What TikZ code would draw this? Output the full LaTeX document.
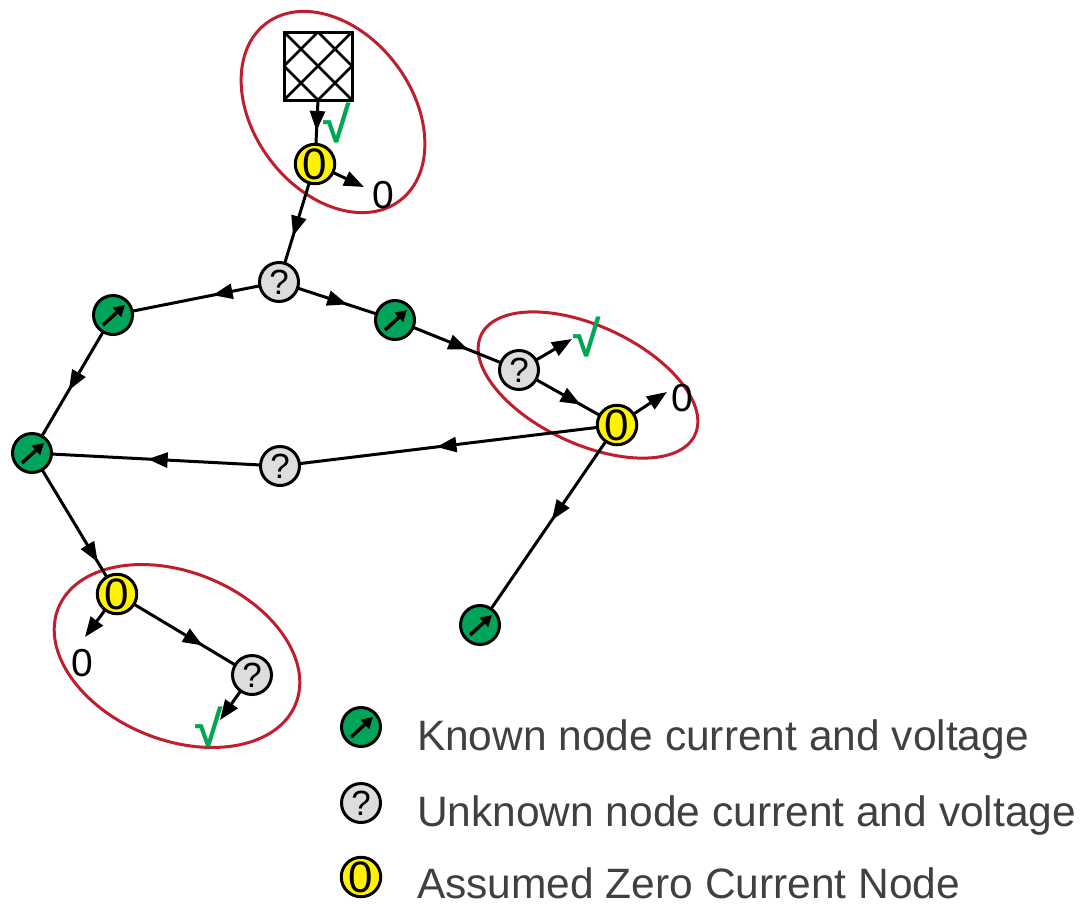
\documentclass[tikz,border=0pt]{standalone}
\usepackage{fontspec}
\setmainfont{Liberation Sans}
\usetikzlibrary{arrows.meta,decorations.markings}
\definecolor{knowngreen}{RGB}{0,163,90}
\definecolor{unkgray}{RGB}{221,221,221}
\definecolor{zeroyellow}{RGB}{255,242,0}
\definecolor{zonered}{RGB}{190,30,45}
\definecolor{checkgreen}{RGB}{0,166,81}
\definecolor{legendtext}{RGB}{64,64,64}
\newcommand\qmark{\raisebox{-4pt}{?}}
\newcommand\zmark{\raisebox{-6pt}{0}}
\begin{document}
\begin{tikzpicture}[x=1pt,y=-1pt,
  every node/.style={inner sep=0pt, outer sep=0pt},
  bus/.style={circle, draw=black, line width=3pt, minimum size=39pt},
  known/.style={bus, fill=knowngreen,
    path picture={\draw[line width=3.5pt, -{Triangle[length=11pt,width=12pt]}]
      ([shift={(-10,10)}]path picture bounding box.center) --
      ([shift={(12,-10)}]path picture bounding box.center);}},
  unknown/.style={bus, fill=unkgray, font=\fontsize{35}{35}\selectfont},
  zero/.style={bus, fill=zeroyellow, font=\fontsize{44}{44}\selectfont},
  source/.style={draw=black, line width=3pt, minimum size=68pt,
    path picture={\draw[line width=2.6pt]
      (path picture bounding box.north west) -- (path picture bounding box.south east)
      (path picture bounding box.north east) -- (path picture bounding box.south west)
      (path picture bounding box.north) -- (path picture bounding box.east)
      -- (path picture bounding box.south) -- (path picture bounding box.west)
      -- cycle;}},
  zerolabel/.style={font=\fontsize{39}{39}\selectfont},
  checklabel/.style={font=\fontsize{50}{50}\selectfont\bfseries, text=checkgreen},
  wire/.style={draw=black, line width=3pt},
  midarrow/.style={postaction={decorate}, decoration={markings,
    mark=at position #1 with {\arrow{Triangle[length=20pt,width=15pt]}}}},
  endarrow/.style={-{Triangle[length=20pt,width=15pt]}},
  zone/.style={draw=zonered, line width=3pt},
  legend/.style={anchor=base west, text=legendtext, font=\fontsize{42.5}{42.5}\selectfont}
]
\useasboundingbox (0,0) rectangle (1081,908);

% zones around the assumed zero current nodes
\draw[zone, rotate around={-53:(333,112)}] (333,112) ellipse [x radius=111, y radius=79];
\draw[zone, rotate around={-25:(588,385)}] (588,385) ellipse [x radius=118, y radius=59];
\draw[zone, rotate around={-22:(177,656)}] (177,656) ellipse [x radius=128, y radius=84];

% source and buses
\node[source] (src) at (318,66) {};
\node[zero] (y1) at (315,164) {\zmark};
\node[unknown] (q1) at (279,282) {\qmark};
\node[known] (ka) at (113,315) {};
\node[known] (kb) at (395,320) {};
\node[unknown] (q2) at (519,370) {\qmark};
\node[zero] (y2) at (617,425) {\zmark};
\node[unknown] (q3) at (280,466) {\qmark};
\node[known] (kc) at (32,453) {};
\node[zero] (y3) at (117,594) {\zmark};
\node[unknown] (q4) at (252,675) {\qmark};
\node[known] (kd) at (480,625) {};

% labels at the free ends
\node[zerolabel] (l1) at (383,195) {0};
\node[zerolabel] (l2) at (682,398) {0};
\node[zerolabel] (l3) at (82,663) {0};
\node[checklabel] (c1) at (337,123) {√};
\node[checklabel] (c2) at (587,337) {√};
\node[checklabel] (c3) at (209,727) {√};

\coordinate (t1) at (364,187);
\coordinate (t2) at (667,392);
\coordinate (t3) at (85,637);
\coordinate (t4) at (572,339);
\coordinate (t5) at (220,720);

% connectors
\draw[wire, midarrow=0.70] (src.south) -- (y1);
\draw[wire, endarrow] (y1) -- (t1);
\draw[wire, midarrow=0.66] (y1) -- (q1);
\draw[wire, midarrow=0.37] (q1) -- (ka);
\draw[wire, midarrow=0.63] (q1) -- (kb);
\draw[wire, midarrow=0.63] (kb) -- (q2);
\draw[wire, endarrow] (q2) -- (t4);
\draw[wire, midarrow=0.70] (q2) -- (y2);
\draw[wire, endarrow] (y2) -- (t2);
\draw[wire, midarrow=0.54] (y2) -- (q3);
\draw[wire, midarrow=0.54] (q3) -- (kc);
\draw[wire, midarrow=0.56] (ka) -- (kc);
\draw[wire, midarrow=0.86] (kc) -- (y3);
\draw[wire, endarrow] (y3) -- (t3);
\draw[wire, midarrow=0.68] (y3) -- (q4);
\draw[wire, endarrow] (q4) -- (t5);
\draw[wire, midarrow=0.47] (y2) -- (kd);

% legend
\node[known] (lk) at (361,727) {};
\node[unknown] (lq) at (361,803) {\qmark};
\node[zero] (lz) at (361,877) {\zmark};
\node[legend] (tk) at (417,750) {Known node current and voltage};
\node[legend] (tq) at (417,826) {Unknown node current and voltage};
\node[legend] (tz) at (417,898) {Assumed Zero Current Node};
\end{tikzpicture}
\end{document}
